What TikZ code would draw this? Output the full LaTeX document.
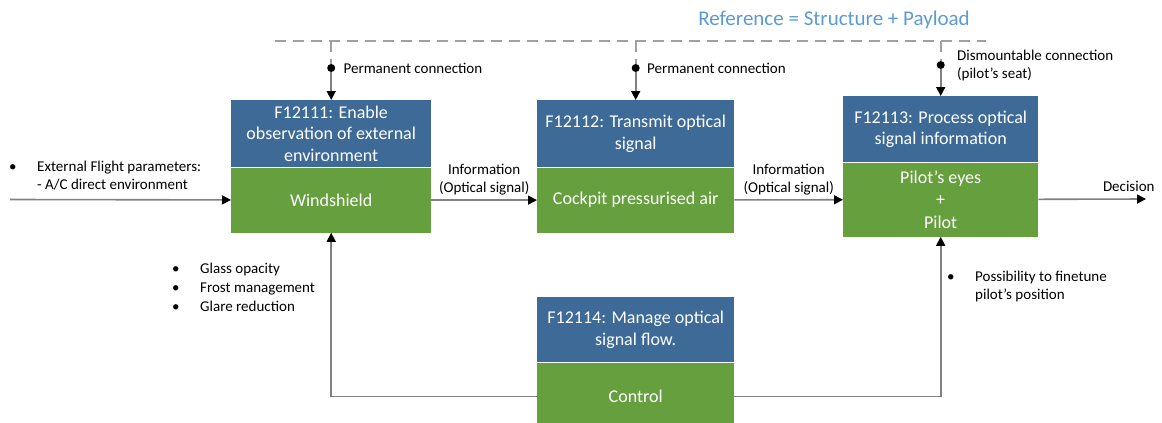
\documentclass[tikz,border=0pt]{standalone}
\usepackage{fontspec}
\setmainfont{Carlito}
\usepackage{tikz}
\usetikzlibrary{positioning}
\usetikzlibrary{arrows.meta}
\definecolor{fnblue}{RGB}{61,106,150}
\definecolor{fngreen}{RGB}{101,159,62}
\definecolor{reftitle}{RGB}{91,155,213}
\definecolor{linegray}{RGB}{128,128,128}

\begin{document}
\begin{tikzpicture}[x=1pt, y=-1pt,
        fnhead/.style={fill=fnblue, text=white, align=center, inner sep=0pt, anchor=north west, font=\fontsize{18}{21.5}\selectfont},
        fnbody/.style={fill=fngreen, text=white, align=center, inner sep=0pt, font=\fontsize{18}{22.5}\selectfont},
        flow/.style={draw=linegray, line width=1.6pt, -{Triangle[length=9pt, width=9pt, color=black]}},
        bus/.style={draw=linegray!75, line width=1.6pt, dash pattern=on 11pt off 7pt},
        joint/.style={circle, fill=black, inner sep=0pt, minimum size=8pt},
        lbl/.style={font=\fontsize{15}{18}\selectfont, inner sep=0pt}]
        \useasboundingbox (0,0) rectangle (1162,423);

        % Title
        \node[font=\fontsize{21}{25}\selectfont, text=reftitle] (title) at (834,20) {Reference = Structure + Payload};

        % Function blocks
        \node[fnhead, minimum width=200pt, minimum height=67pt] (f1t) at (231,100) {F12111: Enable\\observation of external\\environment};
        \node[fnbody, minimum width=200pt, minimum height=65pt, below=0pt of f1t] (f1) {Windshield};

        \node[fnhead, minimum width=197pt, minimum height=67pt] (f2t) at (537,100) {F12112: Transmit optical\\signal};
        \node[fnbody, minimum width=197pt, minimum height=65pt, below=0pt of f2t] (f2) {Cockpit pressurised air};

        \node[fnhead, minimum width=195pt, minimum height=66pt] (f3t) at (843,96) {F12113: Process optical\\signal information};
        \node[fnbody, minimum width=195pt, minimum height=74pt, below=0pt of f3t] (f3) {Pilot's eyes\\+\\Pilot};

        \node[fnhead, minimum width=197pt, minimum height=65pt] (f4t) at (537,297) {F12114: Manage optical\\signal flow.};
        \node[fnbody, minimum width=197pt, minimum height=68pt, below=0pt of f4t] (f4) {Control};

        % Structure line and connections
        \coordinate (busL) at (275,41);
        \coordinate (busR) at (986,41);
        \draw[bus] (busL) -- (busR);

        \node[joint] (j1) at (f1t.north |- 0,68) {};
        \node[joint] (j2) at (f2t.north |- 0,68) {};
        \node[joint] (j3) at (f3t.north |- 0,65) {};
        \draw[bus] (f1t.north |- busL) -- (j1);
        \draw[bus] (f2t.north |- busL) -- (j2);
        \draw[bus] (f3t.north |- busL) -- (j3);
        \draw[flow] (j1) -- (f1t);
        \draw[flow] (j2) -- (f2t);
        \draw[flow] (j3) -- (f3t);
        \node[lbl, right=8pt of j1] (c1) {Permanent connection};
        \node[lbl, right=7pt of j2] (c2) {Permanent connection};
        \node[lbl, right=12pt of j3, align=left] (c3) {Dismountable connection\\(pilot's seat)};

        % Optical signal path
        \coordinate (in) at (10,199.5);
        \coordinate (out) at (1146,199);
        \draw[flow] (in) -- (f1);
        \draw[flow] (f1) -- node[lbl, above=4pt, align=center] (i1) {Information\\(Optical signal)} (f2);
        \draw[flow] (f2) -- node[lbl, above=4pt, align=center] (i2) {Information\\(Optical signal)} (f3);
        \draw[flow] (f3) -- node[lbl, pos=0.84, above=7pt] (dec) {Decision} (out);
        \node[lbl, anchor=west] (ext) at (9,177) {\begin{tabular}{@{}p{28pt}@{}l@{}}\textbullet & External Flight parameters:\\ & - A/C direct environment\end{tabular}};

        % Control loops
        \draw[flow] (f4.west) -| (f1.south);
        \draw[flow] (f4.east) -| (f3.south);
        \node[lbl, anchor=west, font=\fontsize{15}{19}\selectfont] (wsctl) at (172,289) {\begin{tabular}{@{}p{28pt}@{}l@{}}\textbullet & Glass opacity\\ \textbullet & Frost management\\ \textbullet & Glare reduction\end{tabular}};
        \node[lbl, anchor=west] (pilctl) at (947,286.5) {\begin{tabular}{@{}p{28pt}@{}l@{}}\textbullet & Possibility to finetune\\ & pilot's position\end{tabular}};
    \end{tikzpicture}
\end{document}
